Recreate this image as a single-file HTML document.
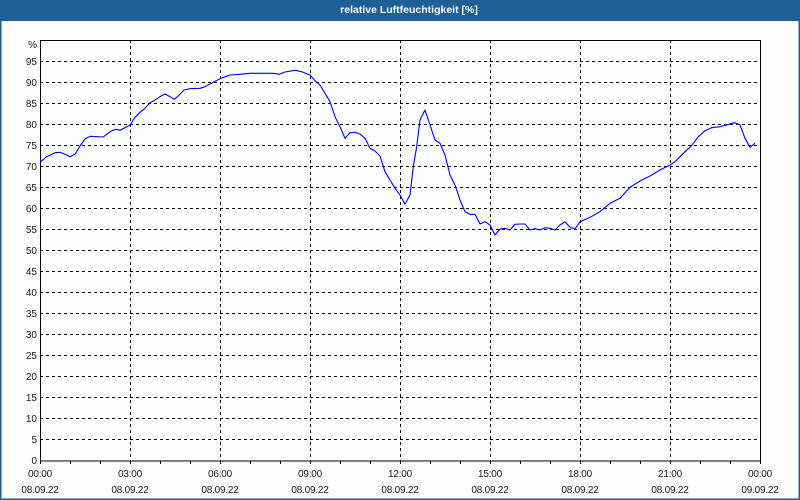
<!DOCTYPE html>
<html><head><meta charset="utf-8"><style>
html,body{margin:0;padding:0;background:#fcfefc;}
svg{display:block;}
text{font-family:"Liberation Sans",Tahoma,sans-serif;fill:#1c1c1c;}
</style></head><body>
<svg width="800" height="500" viewBox="0 0 800 500" xmlns="http://www.w3.org/2000/svg">
<rect x="0" y="0" width="800" height="500" fill="#fcfefc"/>
<rect x="0" y="0" width="800" height="21" fill="#1e5f96"/>
<rect x="0" y="21" width="1.5" height="479" fill="#1e5f96"/>
<rect x="798.5" y="21" width="1.5" height="479" fill="#1e5f96"/>
<rect x="0" y="498.5" width="800" height="1.5" fill="#1e5f96"/>
<text x="409" y="13" text-anchor="middle" font-size="10.5" font-weight="bold" style="fill:#ffffff">relative Luftfeuchtigkeit [%]</text>

<g stroke="#000" stroke-width="1" stroke-dasharray="3,3" shape-rendering="crispEdges">
<line x1="40" y1="61.5" x2="760" y2="61.5"/>
<line x1="40" y1="82.5" x2="760" y2="82.5"/>
<line x1="40" y1="103.5" x2="760" y2="103.5"/>
<line x1="40" y1="124.5" x2="760" y2="124.5"/>
<line x1="40" y1="145.5" x2="760" y2="145.5"/>
<line x1="40" y1="166.5" x2="760" y2="166.5"/>
<line x1="40" y1="187.5" x2="760" y2="187.5"/>
<line x1="40" y1="208.5" x2="760" y2="208.5"/>
<line x1="40" y1="229.5" x2="760" y2="229.5"/>
<line x1="40" y1="250.5" x2="760" y2="250.5"/>
<line x1="40" y1="271.5" x2="760" y2="271.5"/>
<line x1="40" y1="292.5" x2="760" y2="292.5"/>
<line x1="40" y1="313.5" x2="760" y2="313.5"/>
<line x1="40" y1="334.5" x2="760" y2="334.5"/>
<line x1="40" y1="355.5" x2="760" y2="355.5"/>
<line x1="40" y1="376.5" x2="760" y2="376.5"/>
<line x1="40" y1="397.5" x2="760" y2="397.5"/>
<line x1="40" y1="418.5" x2="760" y2="418.5"/>
<line x1="40" y1="439.5" x2="760" y2="439.5"/>
<line x1="130.5" y1="40" x2="130.5" y2="461"/>
<line x1="220.5" y1="40" x2="220.5" y2="461"/>
<line x1="310.5" y1="40" x2="310.5" y2="461"/>
<line x1="400.5" y1="40" x2="400.5" y2="461"/>
<line x1="490.5" y1="40" x2="490.5" y2="461"/>
<line x1="580.5" y1="40" x2="580.5" y2="461"/>
<line x1="670.5" y1="40" x2="670.5" y2="461"/>
</g>

<g stroke="#000" stroke-width="1" shape-rendering="crispEdges">
<rect x="40.5" y="40.5" width="720" height="420.5" fill="none"/>
<line x1="40.5" y1="461" x2="40.5" y2="464"/>
<line x1="70.5" y1="461" x2="70.5" y2="464"/>
<line x1="100.5" y1="461" x2="100.5" y2="464"/>
<line x1="130.5" y1="461" x2="130.5" y2="464"/>
<line x1="160.5" y1="461" x2="160.5" y2="464"/>
<line x1="190.5" y1="461" x2="190.5" y2="464"/>
<line x1="220.5" y1="461" x2="220.5" y2="464"/>
<line x1="250.5" y1="461" x2="250.5" y2="464"/>
<line x1="280.5" y1="461" x2="280.5" y2="464"/>
<line x1="310.5" y1="461" x2="310.5" y2="464"/>
<line x1="340.5" y1="461" x2="340.5" y2="464"/>
<line x1="370.5" y1="461" x2="370.5" y2="464"/>
<line x1="400.5" y1="461" x2="400.5" y2="464"/>
<line x1="430.5" y1="461" x2="430.5" y2="464"/>
<line x1="460.5" y1="461" x2="460.5" y2="464"/>
<line x1="490.5" y1="461" x2="490.5" y2="464"/>
<line x1="520.5" y1="461" x2="520.5" y2="464"/>
<line x1="550.5" y1="461" x2="550.5" y2="464"/>
<line x1="580.5" y1="461" x2="580.5" y2="464"/>
<line x1="610.5" y1="461" x2="610.5" y2="464"/>
<line x1="640.5" y1="461" x2="640.5" y2="464"/>
<line x1="670.5" y1="461" x2="670.5" y2="464"/>
<line x1="700.5" y1="461" x2="700.5" y2="464"/>
<line x1="730.5" y1="461" x2="730.5" y2="464"/>
<line x1="760.5" y1="461" x2="760.5" y2="464"/>
</g>

<g font-size="10" text-anchor="end">
<text x="37" y="48">%</text>
<text x="37" y="65">95</text>
<text x="37" y="86">90</text>
<text x="37" y="107">85</text>
<text x="37" y="128">80</text>
<text x="37" y="149">75</text>
<text x="37" y="170">70</text>
<text x="37" y="191">65</text>
<text x="37" y="212">60</text>
<text x="37" y="233">55</text>
<text x="37" y="254">50</text>
<text x="37" y="275">45</text>
<text x="37" y="296">40</text>
<text x="37" y="317">35</text>
<text x="37" y="338">30</text>
<text x="37" y="359">25</text>
<text x="37" y="380">20</text>
<text x="37" y="401">15</text>
<text x="37" y="422">10</text>
<text x="37" y="443">5</text>
<text x="37" y="464">0</text>
</g>

<g font-size="10" text-anchor="middle" letter-spacing="-0.2">
<text x="40" y="477">00:00</text><text x="40" y="493">08.09.22</text>
<text x="130" y="477">03:00</text><text x="130" y="493">08.09.22</text>
<text x="220" y="477">06:00</text><text x="220" y="493">08.09.22</text>
<text x="310" y="477">09:00</text><text x="310" y="493">08.09.22</text>
<text x="400" y="477">12:00</text><text x="400" y="493">08.09.22</text>
<text x="490" y="477">15:00</text><text x="490" y="493">08.09.22</text>
<text x="580" y="477">18:00</text><text x="580" y="493">08.09.22</text>
<text x="670" y="477">21:00</text><text x="670" y="493">08.09.22</text>
<text x="760" y="477">00:00</text><text x="760" y="493">09.09.22</text>
</g>

<polyline fill="none" stroke="#0000ff" stroke-width="1.1" stroke-linejoin="round" points="40,162.3 46.7,156.7 55,152.7 60,152.3 65,154.3 70,156.7 75,154.3 80,146 85,139 90,136.3 98.3,136.7 103.3,137 106.7,134.3 111.7,130.7 116,129.3 120,130.3 125,127.7 130,125 135,117.3 140,112.3 145,108.3 150,102.7 155,100 160,96.7 165,94 170,96.7 174.3,99.3 178.3,96 184,90 190,88.7 200,88.3 205,86.7 210,84 215,81.3 220,78.7 225,76.7 230,75 240,74.3 250,73.3 260,73.3 273.3,73.3 279.3,74.3 285,72 295,70.3 301.7,71.7 310,75 315,80.7 320,85 325,93.3 330,101.7 335,116.7 340,126.7 345,138.3 350,132.7 355,132.3 360,134 365,138.3 370,148.3 375,151 380,156 385,171.7 390,180 395,188.3 400,195 405,204.3 410,195 413.3,166.7 416.7,146.7 420,120 425,110 430,125 435,140 440,143.3 445,155 450,175 455,185 460,200 465,211.7 470,214.3 475,214.3 480,224 485,221.7 490,225 495,235 500,229 505,228.3 510,230 515,224.3 520,224 525,224 530,230 535,228.7 540,230 545,227.7 550,228.3 555,230 560,225 565,221.7 570,227.3 575,229 580,221.7 590,217.3 600,211.7 610,203.3 620,198.3 630,187.3 640,181 650,176 660,170 670,165 675,161.7 680,156.7 685,151.7 690,147.3 693.3,143.3 698.3,136.7 705,130.7 711.7,127.7 720,126.7 726.7,125 731.7,123.3 735,122.7 740,125 745,138.3 750,147.3 755,143.3"/>
</svg>
</body></html>
